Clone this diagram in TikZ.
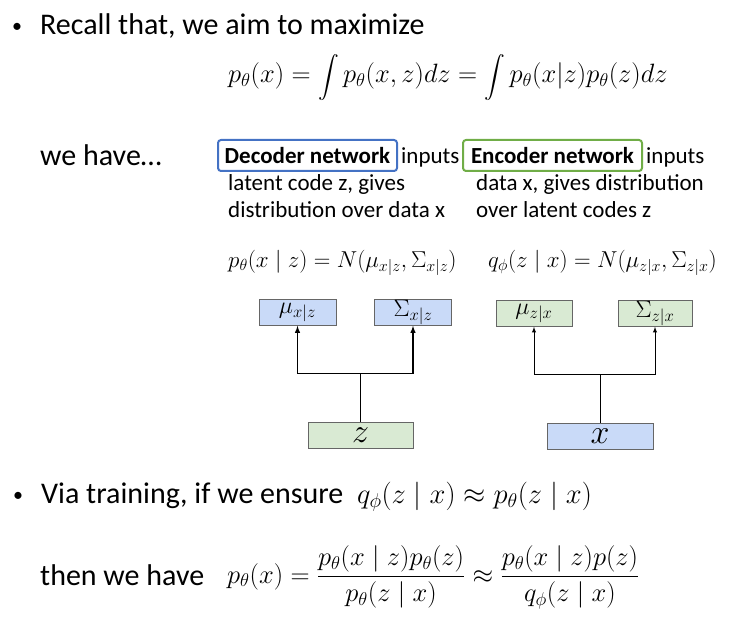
\documentclass[tikz,border=0pt]{standalone}
\usepackage{fix-cm}
\usepackage{amsmath}
\usepackage{fontspec}
\setmainfont{Carlito}
\usetikzlibrary{
  calc,
  positioning,
  arrows
}

\definecolor{decblue}{HTML}{4472C4}
\definecolor{encgreen}{HTML}{70AD47}
\definecolor{boxblue}{HTML}{C9DAF8}
\definecolor{boxgreen}{HTML}{D9EAD3}
\definecolor{boxline}{HTML}{666666}
\newcommand{\slideint}{\mathop{\mbox{\fontsize{21}{24}\selectfont$\displaystyle\intop$}}\nolimits}

\begin{document}
\begin{tikzpicture}[x = 1pt, y = -1pt, >=latex,
    txt/.style = {inner sep = 0pt, anchor = base west, font = \fontsize{30}{34}\selectfont},
    dot/.style = {inner sep = 0pt, anchor = base west, font = \fontsize{20}{24}\selectfont},
    small/.style = {inner sep = 0pt, anchor = base west, font = \fontsize{23}{27}\selectfont},
    netbox/.style = {draw = #1, line width = 2pt, rounded corners = 3pt, inner sep = 0pt,
                     minimum width = 179pt, minimum height = 31pt, font = \fontsize{23}{26}\selectfont\bfseries},
    layer/.style = {draw = boxline, line width = 0.6pt, fill = #1, inner sep = 0pt,
                    minimum width = 77pt, minimum height = 26pt, font = \fontsize{24}{26}\selectfont},
    wire/.style = {line width = #1}
  ]
    \useasboundingbox (0,0) rectangle (746,620);

    \node[dot] (b1) at (12,33) {•};
    \node[txt] (recall) at (40,35) {Recall that, we aim to maximize};
    \node[txt] (maxeq) at (228,83) {\fontsize{26.5}{30}\selectfont
      $\displaystyle p_\theta(x) = \slideint p_\theta(x,z)dz = \slideint p_\theta(x|z)p_\theta(z)dz$};

    \node[txt] (have) at (40,166) {we have…};

    \node[netbox = decblue] (dec) at (307.5,155.5) {Decoder network};
    \node[small, right = 3pt of dec.base east, anchor = base west] (decin) {inputs};
    \node[small] (dec1) at (228,191) {latent code z, gives};
    \node[small] (dec2) at (228,218) {distribution over data x};

    \node[netbox = encgreen] (enc) at (552.5,155.5) {Encoder network};
    \node[small, right = 3pt of enc.base east, anchor = base west] (encin) {inputs};
    \node[small] (enc1) at (476,191) {data x, gives distribution};
    \node[small] (enc2) at (476,218) {over latent codes z};

    \node[small] (deceq) at (228,267) {\fontsize{23}{26}\selectfont
      $p_\theta(x \mid z) = N(\mu_{x|z}, \Sigma_{x|z})$};
    \node[small] (enceq) at (488,267) {\fontsize{23}{26}\selectfont
      $q_\phi(z \mid x) = N(\mu_{z|x}, \Sigma_{z|x})$};

    % decoder
    \node[layer = boxblue] (mux) at (297.5,312.5) {$\mu_{x|z}$};
    \node[layer = boxblue] (sigx) at (413,312.5) {$\Sigma_{x|z}$};
    \node[layer = boxgreen, minimum width = 105pt] (z) at (360.5,435) {\fontsize{34}{36}\selectfont$z$};
    \coordinate (zj) at ($(z.north)!0.5!(z.north |- mux.south)$);
    \draw[wire = 1.4pt] (z) -- (zj);
    \draw[wire = 1.4pt, ->] (zj) -| (mux);
    \draw[wire = 1.4pt, ->] (zj) -| (sigx);

    % encoder
    \node[layer = boxgreen, minimum width = 76pt] (muz) at (534,313.5) {$\mu_{z|x}$};
    \node[layer = boxgreen, minimum width = 74pt] (sigz) at (655,313.5) {$\Sigma_{z|x}$};
    \node[layer = boxblue, minimum width = 106pt] (x) at (600,436) {\fontsize{34}{36}\selectfont$x$};
    \coordinate (xj) at ($(x.north)!0.5!(x.north |- muz.south)$);
    \draw[wire = 0.9pt] (x) -- (xj);
    \draw[wire = 0.9pt, ->] (xj) -| (muz);
    \draw[wire = 0.9pt, ->] (xj) -| (sigz);

    \node[dot] (b2) at (13,501) {•};
    \node[txt] (via) at (41,503) {Via training, if we ensure};
    \node[txt] (approx) at (357,503) {\fontsize{28.5}{32}\selectfont
      $q_\phi(z \mid x) \approx p_\theta(z \mid x)$};

    \node[txt] (then) at (40,585) {then we have};
    \node[txt] (bayes) at (227,583) {\fontsize{26.5}{30}\selectfont
      $\displaystyle p_\theta(x) = \frac{p_\theta(x \mid z)p_\theta(z)}{p_\theta(z \mid x)}
       \approx \frac{p_\theta(x \mid z)p(z)}{q_\phi(z \mid x)}$};
  \end{tikzpicture}
\end{document}
